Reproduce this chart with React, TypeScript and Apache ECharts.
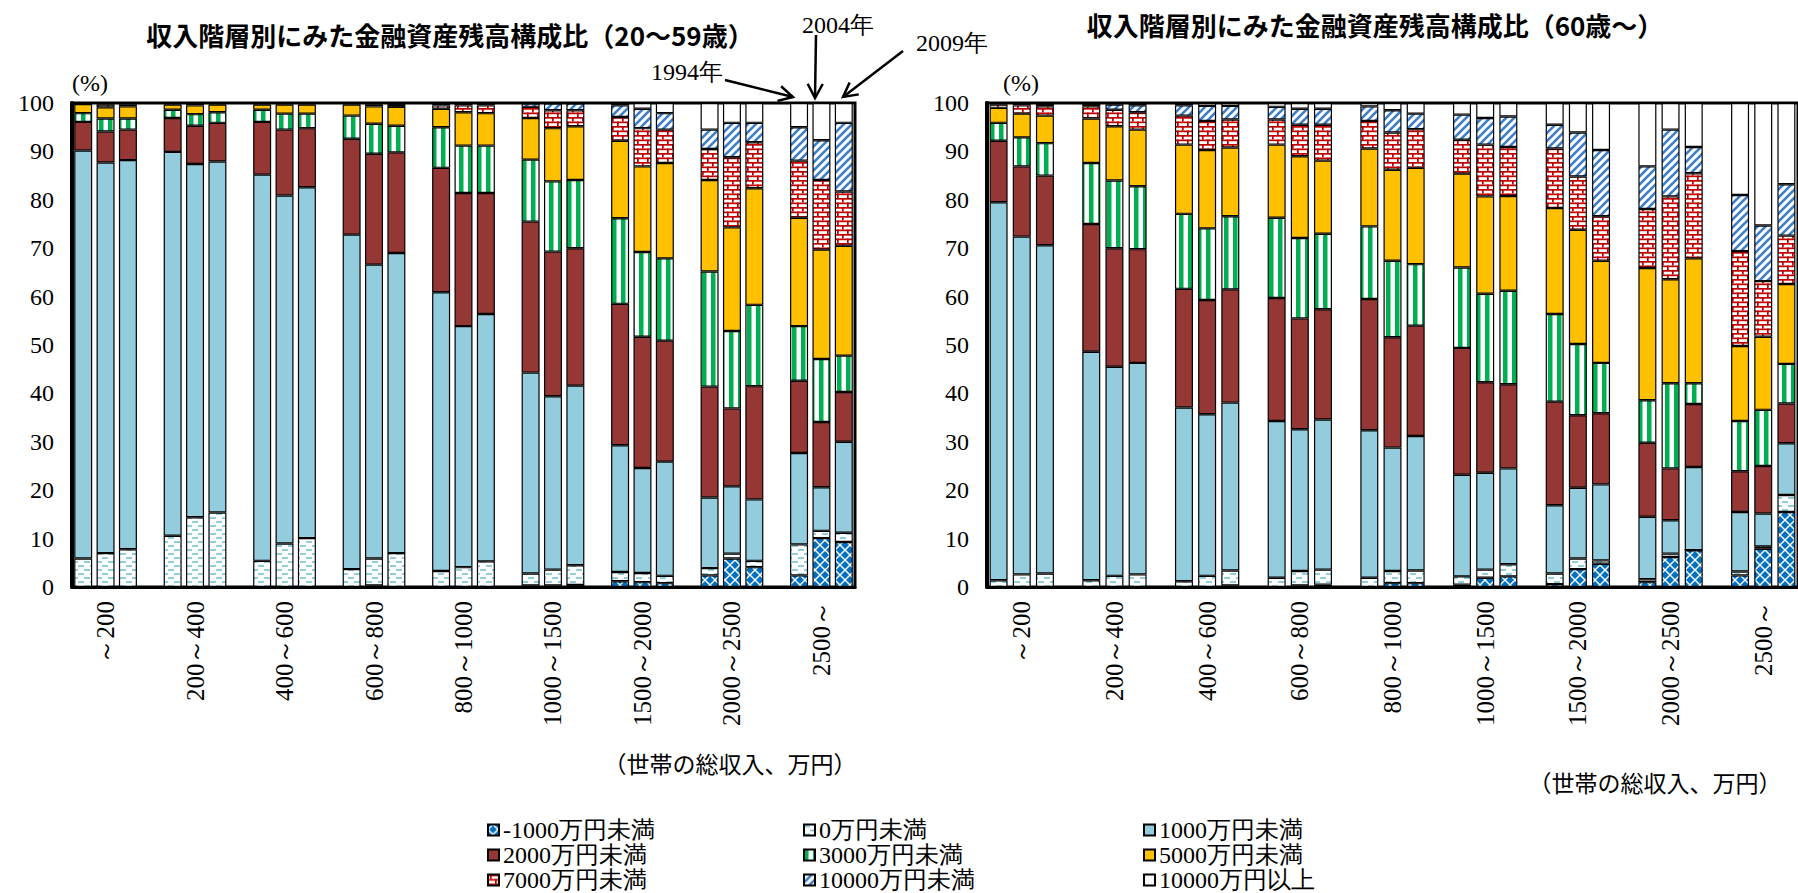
import React, { useEffect, useRef } from "react";
import * as echarts from "echarts";

// ---------- data ----------
const groups = ["～200", "200～400", "400～600", "600～800", "800～1000", "1000～1500", "1500～2000", "2000～2500", "2500～"];
const years = ["1994", "2004", "2009"];
const seriesNames = [
  "-1000万円未満", "0万円未満", "1000万円未満", "2000万円未満", "3000万円未満",
  "5000万円未満", "7000万円未満", "10000万円未満", "10000万円以上",
];
const yTicks = [0, 10, 20, 30, 40, 50, 60, 70, 80, 90, 100];

// 20～59歳 (9 groups x 3 years: 1994, 2004, 2009)
const youngNeg1000 = [0, 0, 0, 0, 0, 0, 0, 0, 0, 0, 0.3, 0, 0, 0, 0, 0.3, 0.3, 0.4, 1.2, 1.0, 0.8, 2.4, 5.9, 4.1, 2.4, 10.1, 9.3];
const young0 = [5.9, 7.0, 7.8, 10.6, 14.4, 15.4, 5.4, 9.0, 10.1, 3.7, 5.6, 7.0, 3.3, 4.1, 5.3, 2.5, 3.3, 4.1, 1.9, 1.9, 1.5, 1.5, 1.0, 1.3, 6.4, 1.5, 1.9];
const young1000 = [84.3, 80.7, 80.4, 79.3, 73.0, 72.5, 79.8, 71.9, 72.5, 69.1, 60.7, 62.0, 57.6, 49.8, 51.1, 41.5, 35.8, 37.1, 26.2, 21.7, 23.6, 14.6, 13.9, 12.7, 18.9, 9.0, 18.8];
const young2000 = [5.9, 6.4, 6.3, 7.0, 7.9, 8.0, 10.9, 13.6, 12.2, 19.8, 22.9, 20.8, 25.7, 27.5, 25.0, 31.2, 29.9, 28.4, 29.2, 27.1, 25.0, 22.9, 16.1, 23.4, 14.9, 13.5, 10.3];
const young3000 = [1.8, 2.7, 2.3, 1.7, 2.4, 2.2, 2.5, 3.3, 3.0, 4.8, 6.2, 5.5, 8.4, 9.8, 9.8, 12.8, 14.5, 14.1, 17.7, 17.5, 17.0, 23.8, 16.0, 16.8, 11.3, 13.0, 7.5];
const young5000 = [1.9, 2.3, 2.5, 1.1, 1.8, 1.6, 1.1, 1.9, 1.9, 2.3, 3.6, 3.9, 3.8, 6.9, 6.7, 8.6, 11.0, 11.1, 16.0, 17.7, 19.7, 18.9, 21.4, 24.1, 22.4, 22.6, 22.7];
const young7000 = [0.1, 0.6, 0.4, 0.2, 0.3, 0.2, 0.2, 0.2, 0.2, 0.2, 0.4, 0.4, 0.7, 1.4, 1.6, 2.3, 3.7, 3.3, 4.9, 7.9, 6.9, 6.4, 14.5, 9.5, 11.8, 14.4, 11.2];
const young10000 = [0.1, 0.3, 0.3, 0.1, 0.2, 0.1, 0.1, 0.1, 0.1, 0.1, 0.2, 0.3, 0.3, 0.3, 0.3, 0.7, 1.4, 1.4, 2.4, 4.0, 3.4, 4.0, 7.1, 4.0, 6.9, 8.2, 14.2];
const youngOver = [0, 0, 0, 0, 0, 0, 0, 0, 0, 0, 0.1, 0.1, 0.2, 0.2, 0.2, 0.1, 0.1, 0.1, 0.5, 1.2, 2.1, 5.5, 4.1, 4.1, 5.0, 7.7, 4.1];

// 60歳～
const oldNeg1000 = [0, 0, 0, 0, 0, 0, 0, 0, 0.3, 0, 0.3, 0.5, 0, 0.8, 0.8, 0.5, 1.9, 2.2, 0.6, 3.7, 4.8, 1.0, 6.2, 7.6, 2.4, 7.9, 15.5];
const old0 = [1.4, 2.6, 2.8, 1.4, 2.3, 2.6, 1.2, 2.3, 3.1, 1.9, 3.0, 3.1, 1.9, 2.5, 2.6, 1.7, 1.7, 2.5, 2.2, 2.2, 0.7, 0.6, 0.7, 0, 0.8, 0.5, 3.5];
const old1000 = [78.1, 69.8, 67.8, 47.2, 43.2, 43.7, 35.9, 33.4, 34.7, 32.4, 29.3, 31.0, 30.5, 25.5, 27.8, 21.0, 20.0, 19.8, 14.1, 14.6, 15.7, 12.9, 6.9, 17.2, 12.3, 6.8, 10.7];
const old2000 = [12.7, 14.5, 14.4, 26.4, 24.5, 23.5, 24.5, 23.6, 23.4, 25.4, 22.9, 22.8, 27.1, 22.8, 22.8, 26.2, 18.7, 17.4, 21.4, 15.0, 14.7, 15.3, 10.7, 13.0, 8.4, 9.8, 8.2];
const old3000 = [3.7, 6.0, 6.7, 12.6, 14.0, 13.0, 15.5, 14.8, 15.1, 16.6, 16.6, 15.6, 15.0, 15.8, 12.7, 16.6, 18.3, 19.3, 18.1, 14.7, 10.4, 8.8, 17.6, 4.3, 10.4, 11.6, 8.2];
const old5000 = [3.1, 4.9, 5.7, 9.2, 11.2, 11.7, 14.3, 16.2, 14.2, 15.1, 16.9, 15.1, 16.1, 18.8, 19.9, 19.4, 20.1, 19.6, 21.9, 23.6, 21.1, 27.3, 21.5, 25.8, 15.5, 15.1, 16.5];
const old7000 = [0.7, 1.7, 1.9, 2.5, 3.4, 3.6, 6.0, 6.0, 5.8, 5.2, 6.5, 7.4, 5.7, 7.7, 8.0, 7.0, 10.7, 10.1, 12.3, 11.0, 9.2, 12.2, 17.1, 17.6, 19.6, 11.5, 10.0];
const old10000 = [0.3, 0.3, 0.5, 0.5, 1.1, 1.4, 2.1, 3.1, 2.8, 2.6, 3.3, 3.3, 3.0, 4.6, 3.2, 5.2, 5.5, 6.3, 4.9, 9.1, 13.7, 8.8, 13.8, 5.4, 11.6, 11.5, 10.6];
const oldOver = [0, 0.2, 0.2, 0.2, 0.3, 0.5, 0.5, 0.6, 0.6, 0.8, 1.2, 1.2, 0.7, 1.5, 2.2, 2.4, 3.1, 2.8, 4.5, 6.1, 9.7, 13.1, 5.5, 9.1, 19.0, 25.3, 16.8];

const youngSeries = [youngNeg1000, young0, young1000, young2000, young3000, young5000, young7000, young10000, youngOver];
const oldSeries = [oldNeg1000, old0, old1000, old2000, old3000, old5000, old7000, old10000, oldOver];

// ---------- helpers ----------
const SERIF = "Liberation Serif";
const SANS = "Noto Sans CJK JP";

// categories: 3 bars per group + empty slot between groups
const categories: string[] = [];
groups.forEach((g, gi) => {
  years.forEach((y, yi) => categories.push(gi + "-" + yi));
  if (gi < groups.length - 1) categories.push("gap" + gi);
});

function pad(vals: number[]): (number | string)[] {
  const out: (number | string)[] = [];
  for (let gi = 0; gi < groups.length; gi++) {
    for (let yi = 0; yi < 3; yi++) out.push(vals[gi * 3 + yi]);
    if (gi < groups.length - 1) out.push("-");
  }
  return out;
}

function pattern(w: number, h: number, draw: (ctx: CanvasRenderingContext2D) => void) {
  const c = document.createElement("canvas");
  c.width = w;
  c.height = h;
  const ctx = c.getContext("2d")!;
  ctx.fillStyle = "#ffffff";
  ctx.fillRect(0, 0, w, h);
  draw(ctx);
  return { image: c.toDataURL(), imageWidth: w, imageHeight: h, repeat: "repeat" } as any;
}

function buildColors() {
  const cross = pattern(10, 10, (ctx) => {
    ctx.fillStyle = "#0070C0";
    const dia = (cx: number, cy: number, r: number) => {
      ctx.beginPath();
      ctx.moveTo(cx, cy - r);
      ctx.lineTo(cx + r, cy);
      ctx.lineTo(cx, cy + r);
      ctx.lineTo(cx - r, cy);
      ctx.closePath();
      ctx.fill();
    };
    dia(5, 5, 4);
    dia(0, 0, 4);
    dia(10, 0, 4);
    dia(0, 10, 4);
    dia(10, 10, 4);
  });
  const dash = pattern(12, 8, (ctx) => {
    ctx.fillStyle = "#92CDDC";
    ctx.fillRect(0, 1, 6, 2);
    ctx.fillRect(6, 5, 6, 2);
  });
  const vstripe = pattern(9, 2, (ctx) => {
    ctx.fillStyle = "#00B050";
    ctx.fillRect(0, 0, 4.5, 2);
  });
  const brick = pattern(10, 9, (ctx) => {
    ctx.fillStyle = "#C00000";
    ctx.fillRect(0, 0, 10, 1.7);
    ctx.fillRect(0, 4.5, 10, 1.7);
    ctx.fillRect(2, 0, 1.7, 4.5);
    ctx.fillRect(7, 4.5, 1.7, 4.5);
  });
  const diag = pattern(8, 8, (ctx) => {
    ctx.strokeStyle = "#3A7DC9";
    ctx.lineWidth = 2.6;
    const ln = (x1: number, y1: number, x2: number, y2: number) => {
      ctx.beginPath();
      ctx.moveTo(x1, y1);
      ctx.lineTo(x2, y2);
      ctx.stroke();
    };
    ln(-1, 9, 9, -1);
    ln(-5, 5, 5, -5);
    ln(3, 13, 13, 3);
  });
  return [cross, dash, "#93CDDD", "#953735", vstripe, "#FFC000", brick, diag, "#ffffff"];
}

function arrowGraphics(x1: number, y1: number, x2: number, y2: number) {
  const dx = x2 - x1, dy = y2 - y1;
  const len = Math.sqrt(dx * dx + dy * dy);
  const ux = dx / len, uy = dy / len;
  const L = 16, th = (28 * Math.PI) / 180;
  const rot = (a: number) => [ux * Math.cos(a) - uy * Math.sin(a), ux * Math.sin(a) + uy * Math.cos(a)];
  const [ax, ay] = rot(th);
  const [bx, by] = rot(-th);
  return [
    { type: "line", shape: { x1, y1, x2, y2 }, style: { stroke: "#000", lineWidth: 2.5 }, z: 100 },
    {
      type: "polyline",
      shape: { points: [[x2 - L * ax, y2 - L * ay], [x2, y2], [x2 - L * bx, y2 - L * by]] },
      style: { stroke: "#000", lineWidth: 2.5, fill: null },
      z: 100,
    },
  ];
}

function textG(text: string, x: number, y: number, size: number, family: string, weight = "normal", align = "center") {
  return {
    type: "text",
    x,
    y,
    z: 100,
    style: { text, fontSize: size, fontFamily: family, fontWeight: weight, fill: "#000", align, verticalAlign: "middle" },
  };
}

export default function App() {
  const ref = useRef<HTMLDivElement>(null);
  useEffect(() => {
    const chart = echarts.init(ref.current!, null, { renderer: "svg" });
    const colors = buildColors();

    const grids = [
      { left: 72, top: 103, width: 783, height: 484 },
      { left: 987, top: 103, width: 812, height: 484 },
    ];

    const xAxes = grids.map((_, i) => ({
      gridIndex: i,
      type: "category",
      data: categories,
      axisTick: { show: false },
      axisLine: { lineStyle: { color: "#000", width: 3 } },
      axisLabel: {
        interval: 0,
        rotate: 90,
        margin: 14,
        fontSize: 25,
        fontFamily: SERIF,
        color: "#000",
        formatter: (v: string) => {
          const m = v.split("-");
          return m.length === 2 && m[1] === "1" ? groups[+m[0]] : "";
        },
      },
    }));

    const yAxes = grids.map((_, i) => ({
      gridIndex: i,
      type: "value",
      min: yTicks[0],
      max: yTicks[yTicks.length - 1],
      interval: yTicks[1] - yTicks[0],
      splitLine: { show: false },
      axisTick: { show: false },
      axisLine: { show: true, lineStyle: { color: "#000", width: 4 } },
      axisLabel: { fontSize: 24, fontFamily: SERIF, color: "#000", margin: 18 },
    }));

    const series: any[] = [];
    [youngSeries, oldSeries].forEach((set, gi) => {
      set.forEach((vals, si) => {
        series.push({
          type: "bar",
          name: seriesNames[si],
          xAxisIndex: gi,
          yAxisIndex: gi,
          stack: "s" + gi,
          barWidth: 18,
          data: pad(vals),
          itemStyle: { color: colors[si], borderColor: "#000", borderWidth: 1.2 },
          emphasis: { disabled: true },
        });
      });
    });

    const legendCommon = {
      orient: "vertical",
      top: 818,
      padding: 0,
      itemWidth: 11,
      itemHeight: 11,
      itemGap: 1,
      icon: "rect",
      selectedMode: false,
      textStyle: { fontSize: 24, fontFamily: SERIF, color: "#000", lineHeight: 24, padding: [0, 0, 0, -1] },
    };
    const legends = [
      { ...legendCommon, left: 487, data: [seriesNames[0], seriesNames[3], seriesNames[6]] },
      { ...legendCommon, left: 803, data: [seriesNames[1], seriesNames[4], seriesNames[7]] },
      { ...legendCommon, left: 1143, data: [seriesNames[2], seriesNames[5], seriesNames[8]] },
    ];

    const graphic: any[] = [
      textG("収入階層別にみた金融資産残高構成比（20～59歳）", 450, 34, 26, SANS, "bold"),
      textG("収入階層別にみた金融資産残高構成比（60歳～）", 1375, 24, 26, SANS, "bold"),
      textG("(%)", 72, 83, 24, SERIF, "normal", "left"),
      textG("(%)", 1003, 83, 24, SERIF, "normal", "left"),
      textG("1994年", 687, 72, 24, SERIF),
      textG("2004年", 838, 25, 24, SERIF),
      textG("2009年", 952, 43, 24, SERIF),
      textG("（世帯の総収入、万円）", 730, 763, 23, SANS),
      textG("（世帯の総収入、万円）", 1655, 782, 23, SANS),
      ...arrowGraphics(725, 80, 793, 97),
      ...arrowGraphics(816, 35, 815, 98),
      ...arrowGraphics(903, 51, 843, 97),
    ];

    chart.setOption({
      animation: false,
      backgroundColor: "#ffffff",
      grid: grids.map((g) => ({ ...g, show: true, borderColor: "#000", borderWidth: 3, backgroundColor: "transparent" })),
      xAxis: xAxes,
      yAxis: yAxes,
      legend: legends,
      series,
      graphic,
    });
    return () => chart.dispose();
  }, []);
  return <div ref={ref} style={{ position: "absolute", left: 0, top: 0, width: 1798, height: 893 }} />;
}
